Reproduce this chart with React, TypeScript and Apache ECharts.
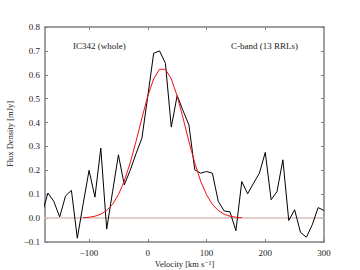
import React, { useEffect, useRef } from "react";
import * as echarts from "echarts";

const velocities: number[] = [
  -180, -170, -160, -150, -140, -130, -120, -110, -100, -90, -80, -70, -60, -50, -40, -30, -20, -10,
  0, 10, 20, 30, 40, 50, 60, 70, 80, 90, 100, 110, 120, 130, 140, 150, 160, 170, 180, 190, 200, 210,
  220, 230, 240, 250, 260, 270, 280, 290, 300,
];

const fluxData: number[] = [
  0.02, 0.105, 0.07, 0.005, 0.093, 0.116, -0.084, 0.06, 0.2, 0.088, 0.293, -0.046, 0.11, 0.265, 0.139, 0.2, 0.27, 0.335,
  0.51, 0.69, 0.7, 0.648, 0.381, 0.513, 0.45, 0.39, 0.202, 0.188, 0.195, 0.188, 0.07, 0.03, 0.026, -0.053, 0.153, 0.102,
  0.146, 0.188, 0.275, 0.077, 0.111, 0.244, -0.01, 0.035, -0.06, -0.08, -0.028, 0.044, 0.032,
];

const modelVel: number[] = [
  -110, -100, -90, -80, -70, -60, -50, -40, -30, -20, -10, 0, 10, 20, 30, 40, 50, 60, 70, 80, 90, 100,
  110, 120, 130, 140, 150, 160,
];
const modelFlux: number[] = [
  0.0015, 0.0036, 0.0079, 0.0164, 0.0317, 0.0575, 0.098, 0.155, 0.231, 0.321, 0.419, 0.511, 0.583, 0.623,
  0.623, 0.583, 0.511, 0.419, 0.321, 0.231, 0.155, 0.098, 0.0575, 0.0317, 0.0164, 0.0079, 0.0036, 0.0015,
];

const xTicks: number[] = [-100, 0, 100, 200, 300];
const xTopTicks: number[] = [-100, 0, 100, 200];
const yTicks: number[] = [-0.1, 0, 0.1, 0.2, 0.3, 0.4, 0.5, 0.6, 0.7, 0.8];

const FONT = "'Liberation Serif', 'DejaVu Serif', serif";
const AXIS_COLOR = "#808080";

const fmtMinus = (s: string) => s.replace("-", "\u2212");

export default function App() {
  const ref = useRef<HTMLDivElement>(null);
  useEffect(() => {
    if (!ref.current) return;
    const chart = echarts.init(ref.current, undefined, { renderer: "svg" });
    const axisLine = { show: true, onZero: false, lineStyle: { color: AXIS_COLOR, width: 1.5 } };
    chart.setOption({
      animation: false,
      grid: { left: 45, right: 36, top: 27, bottom: 28, containLabel: false },
      xAxis: [
        {
          type: "value",
          min: -175,
          max: 300,
          position: "bottom",
          axisLine,
          splitLine: { show: false },
          axisTick: { show: true, inside: true, length: 3, customValues: xTicks, lineStyle: { color: AXIS_COLOR } },
          axisLabel: {
            show: true,
            customValues: xTicks,
            formatter: (v: number) => fmtMinus(String(v)),
            color: "#222",
            fontFamily: FONT,
            fontSize: 9,
            margin: 6,
          },
        },
        {
          type: "value",
          min: -175,
          max: 300,
          position: "top",
          axisLine,
          splitLine: { show: false },
          axisTick: { show: true, inside: true, length: 3, customValues: xTopTicks, lineStyle: { color: AXIS_COLOR } },
          axisLabel: { show: false },
        },
      ],
      yAxis: [
        {
          type: "value",
          min: -0.1,
          max: 0.8,
          position: "left",
          axisLine,
          splitLine: { show: false },
          axisTick: { show: true, inside: true, length: 3, customValues: yTicks, lineStyle: { color: AXIS_COLOR } },
          axisLabel: {
            show: true,
            customValues: yTicks,
            formatter: (v: number) => fmtMinus(v.toFixed(1)),
            color: "#222",
            fontFamily: FONT,
            fontSize: 9,
            margin: 5,
          },
        },
        {
          type: "value",
          min: -0.1,
          max: 0.8,
          position: "right",
          axisLine,
          splitLine: { show: false },
          axisTick: { show: true, inside: true, length: 3, customValues: yTicks, lineStyle: { color: AXIS_COLOR } },
          axisLabel: { show: false },
        },
      ],
      series: [
        {
          type: "line",
          data: [
            [-180, 0],
            [300, 0],
          ],
          symbol: "none",
          lineStyle: { color: "#dcbcbc", width: 1.5 },
          z: 1,
          silent: true,
        },
        {
          type: "line",
          data: modelVel.map((v, i) => [v, modelFlux[i]]),
          symbol: "none",
          lineStyle: { color: "#ee1111", width: 1 },
          z: 3,
        },
        {
          type: "line",
          data: velocities.map((v, i) => [v, fluxData[i]]),
          symbol: "none",
          lineStyle: { color: "#000000", width: 1 },
          z: 2,
        },
      ],
      graphic: [
        {
          type: "text",
          x: 73,
          y: 45.5,
          style: { text: "IC342 (whole)", font: `9px ${FONT}`, fill: "#222", verticalAlign: "middle" },
        },
        {
          type: "text",
          x: 231,
          y: 45.5,
          style: { text: "C-band (13 RRLs)", font: `9px ${FONT}`, fill: "#222", verticalAlign: "middle" },
        },
        {
          type: "text",
          x: 184.5,
          y: 264,
          style: {
            text: "Velocity [km s\u207B\u00B9]",
            font: `8.5px ${FONT}`,
            fill: "#222",
            align: "center",
            verticalAlign: "middle",
          },
        },
        {
          type: "text",
          x: 10,
          y: 134,
          rotation: Math.PI / 2,
          style: {
            text: "Flux Density [mJy]",
            font: `8.5px ${FONT}`,
            fill: "#222",
            align: "center",
            verticalAlign: "middle",
          },
        },
      ],
    });
    return () => chart.dispose();
  }, []);
  return <div ref={ref} style={{ width: 360, height: 270, position: "absolute", left: 0, top: 0 }} />;
}
